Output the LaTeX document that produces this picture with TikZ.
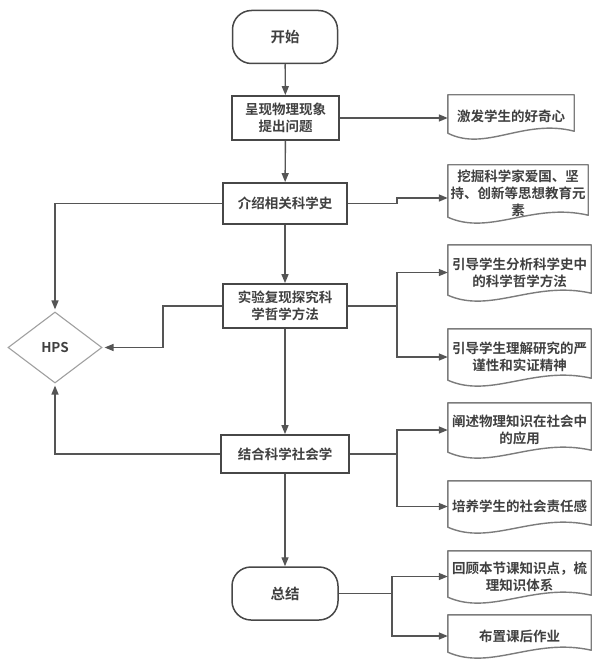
\documentclass[tikz,border=0pt]{standalone}
\usepackage{fontspec}
\setmainfont{Noto Sans CJK SC}[BoldFont={Noto Sans CJK SC Bold}]
\usetikzlibrary{arrows.meta,shapes.geometric,calc}
\definecolor{lncol}{HTML}{555555}
\definecolor{bxcol}{HTML}{474747}
\definecolor{doccol}{HTML}{7C7C7C}
\definecolor{dmcol}{HTML}{A0A0A0}
\definecolor{txtcol}{HTML}{404040}
\begin{document}
\begin{tikzpicture}[x=1pt,y=-1pt,
  every node/.style={font=\bfseries\fontsize{13.5}{17}\selectfont, text=txtcol, align=center, inner sep=0pt},
  boxn/.style={draw=bxcol, line width=1.8pt, rectangle},
  termn/.style={draw=bxcol, line width=1.5pt, rectangle, rounded corners=19pt, font=\bfseries\fontsize{14.5}{17}\selectfont},
  docn/.style={rectangle},
  docline/.style={draw=doccol, line width=1.4pt, line join=round},
  hpsn/.style={draw=dmcol, line width=1.1pt, diamond, minimum width=94pt, minimum height=71pt},
  conn/.style={draw=lncol, line width=1.4pt, -{Triangle[length=9pt,width=7pt]}},
  plain/.style={draw=lncol, line width=1.4pt}]
\useasboundingbox (0,0) rectangle (594,663);
\fill[white] (0,0) rectangle (594,663);

% main column
\node[termn, minimum width=105pt, minimum height=53pt] (start) at (285,37) {开始};
\node[boxn, minimum width=107pt, minimum height=44pt] (b1) at (285.5,118) {呈现物理现象\\提出问题};
\node[boxn, minimum width=124pt, minimum height=41pt] (b2) at (285,203.5) {介绍相关科学史};
\node[boxn, minimum width=124pt, minimum height=44pt] (b3) at (285,306) {实验复现探究科\\学哲学方法};
\node[boxn, minimum width=128pt, minimum height=38pt] (b4) at (285,454) {结合科学社会学};
\node[termn, minimum width=106pt, minimum height=53pt] (end) at (285,593.5) {总结};

% HPS
\node[hpsn] (hps) at (55,347.5) {HPS};

% documents
\node[docn, minimum width=126pt, minimum height=43pt] (d1) at (511,116.5) {激发学生的好奇心};
\node[docn, minimum width=140pt, minimum height=57pt] (d2) at (518,193.5) {挖掘科学家爱国、坚\\持、创新等思想教育元\\素};
\node[docn, minimum width=143pt, minimum height=55pt] (d3) at (519.5,272.5) {引导学生分析科学史中\\的科学哲学方法};
\node[docn, minimum width=143pt, minimum height=56pt] (d4) at (519.5,357) {引导学生理解研究的严\\谨性和实证精神};
\node[docn, minimum width=143pt, minimum height=54pt] (d5) at (519.5,430) {阐述物理知识在社会中\\的应用};
\node[docn, minimum width=143pt, minimum height=51pt] (d6) at (519.5,506.5) {培养学生的社会责任感};
\node[docn, minimum width=143pt, minimum height=51pt] (d7) at (519.5,576.5) {回顾本节课知识点，梳\\理知识体系};
\node[docn, minimum width=143pt, minimum height=42pt] (d8) at (519.5,636) {布置课后作业};

\foreach \n in {d1,d2,d3,d4,d5,d6,d7,d8}{
  \draw[docline] (\n.north west) -- (\n.north east) -- ($(\n.south east)+(0pt,7pt)$)
    .. controls ($(\n.south west)!0.6!(\n.south east)+(0pt,20pt)$) and ($(\n.south west)!0.3!(\n.south east)+(0pt,-14pt)$)
    .. ($(\n.south west)+(0pt,5pt)$) -- cycle;
}

% helper coordinates
\coordinate (e2) at (397,198);
\coordinate (c3) at (163,347.5);
\coordinate (f3) at (397,306);
\coordinate (f4) at (397,454);
\coordinate (f5) at (392,593.5);

% vertical flow
\draw[conn] (start) -- (b1);
\draw[conn] (b1) -- (b2);
\draw[conn] (b2) -- (b3);
\draw[conn] (b3) -- (b4);
\draw[conn] (b4) -- (end);

% right branches
\draw[conn] (b1.east) -- (b1.east -| d1.west);
\draw[conn] (b2.east) -| (e2) -- (e2 -| d2.west);
\draw[plain] (b3.east) -- (f3);
\draw[conn] (f3) |- (d3.west);
\draw[conn] (f3) |- (d4.west);
\draw[plain] (b4.east) -- (f4);
\draw[conn] (f4) |- (d5.west);
\draw[conn] (f4) |- (d6.west);
\draw[plain] (end.east) -- (f5);
\draw[conn] (f5) |- (d7.west);
\draw[conn] (f5) |- (d8.west);

% left to HPS
\draw[conn, shorten >=2pt] (b2.west) -| (hps.north);
\draw[conn, shorten >=2pt] (b3.west) -| (c3) -- (hps.east);
\draw[conn, shorten >=2pt] (b4.west) -| (hps.south);
\end{tikzpicture}
\end{document}
